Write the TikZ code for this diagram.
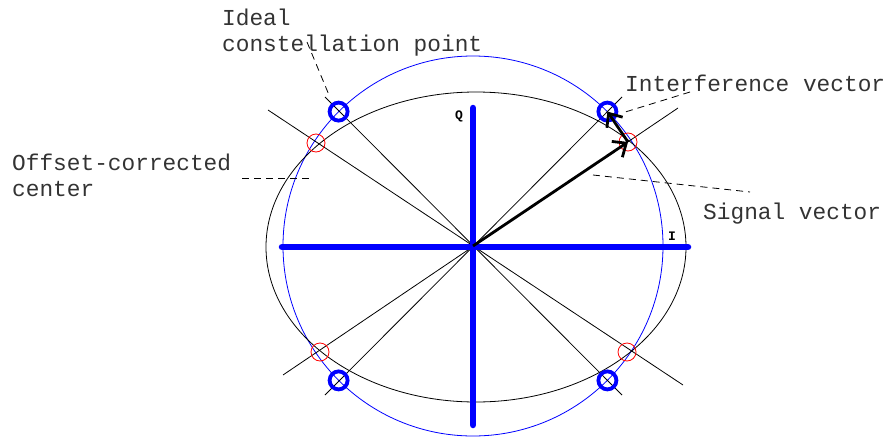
\documentclass[tikz,border=0pt]{standalone}
\usepackage{fontspec}
\setmonofont{Liberation Mono}
\usetikzlibrary{arrows.meta}
\tikzset{
	axis/.style={
		draw=blue,
		line width=6.5pt,
		line cap=round
	},
	ideal/.style={
		circle,
		draw=blue,
		line width=3.8pt,
		minimum size=18pt,
		inner sep=0pt
	},
	offset/.style={
		circle,
		draw=red,
		line width=0.8pt,
		minimum size=18pt,
		inner sep=0pt
	},
	guide/.style={
		draw=black,
		line width=0.8pt
	},
	leader/.style={
		draw=black,
		line width=0.8pt,
		dash pattern=on 7pt off 5pt
	},
	vector/.style={
		->,
		>={Straight Barb[length=11pt,width=19pt]},
		line width=2.8pt
	},
	callout/.style={
		font=\ttfamily\fontsize{22.8}{26}\selectfont,
		text=black!80,
		align=left,
		inner sep=0pt,
		anchor=base west
	},
	axislabel/.style={
		font=\ttfamily\bfseries\fontsize{13}{13}\selectfont,
		inner sep=0pt
	}
}
\begin{document}
\begin{tikzpicture}[x=1pt, y=-1pt]
		\useasboundingbox (0,0) rectangle (893,436);
		
		% centre and guide end points
		\coordinate (O)   at (473,246);
		\coordinate (da1) at (325,97);
		\coordinate (da2) at (622,395);
		\coordinate (db1) at (622,97);
		\coordinate (db2) at (325,395);
		\coordinate (ra1) at (268,110);
		\coordinate (ra2) at (683,385);
		\coordinate (rb1) at (678,108);
		\coordinate (rb2) at (283,375);
		
		% circles
		\draw [blue, line width=0.8pt] (O) circle [radius=190pt];
		\draw [black, line width=0.8pt] (476,247) ellipse [x radius=210pt, y radius=155pt];
		
		% guide lines
		\draw [guide] (da1) -- (da2);
		\draw [guide] (db1) -- (db2);
		\draw [guide] (ra1) -- (ra2);
		\draw [guide] (rb1) -- (rb2);
		
		% axes
		\coordinate (iL) at (282,247);
		\coordinate (iR) at (688,247);
		\coordinate (qT) at (473,108);
		\coordinate (qB) at (473,425);
		\draw [axis] (iL) -- (iR);
		\draw [axis] (qT) -- (qB);
		\node (ilab) [axislabel] at (672,236) {I};
		\node (qlab) [axislabel] at (459,116) {Q};
		
		% constellation points
		\node (idUL)  [ideal]  at (338.6,111.6) {};
		\node (idUR)  [ideal]  at (607.4,111.6) {};
		\node (idLL)  [ideal]  at (338.6,380.4) {};
		\node (idLR)  [ideal]  at (607.4,380.4) {};
		\node (ofUL)  [offset] at (316,143) {};
		\node (ofUR)  [offset] at (628,142) {};
		\node (ofLL)  [offset] at (320,352) {};
		\node (ofLR)  [offset] at (627,352) {};
		
		% vectors
		\draw [vector] (O) -- (ofUR.center);
		\draw [vector] (ofUR.center) -- (idUR.center);
		
		% annotations (base = last line)
		\node (ideal)  [callout] at (222,52)  {Ideal\\constellation point};
		\node (interf) [callout] at (625,91)  {Interference vector};
		\node (signal) [callout] at (703,219) {Signal vector};
		\node (offc)   [callout] at (12,196)  {Offset-corrected\\center};
		
		\coordinate (l1a) at (307,42);
		\coordinate (l1b) at (329,95);
		\coordinate (l2a) at (690,92);
		\coordinate (l2b) at (622,113);
		\coordinate (l3a) at (593,175);
		\coordinate (l3b) at (750,192);
		\coordinate (l4a) at (242,178);
		\coordinate (l4b) at (312,178);
		\draw [leader] (l1a) -- (l1b);
		\draw [leader] (l2a) -- (l2b);
		\draw [leader] (l3a) -- (l3b);
		\draw [leader] (l4a) -- (l4b);
		
	\end{tikzpicture}
\end{document}
